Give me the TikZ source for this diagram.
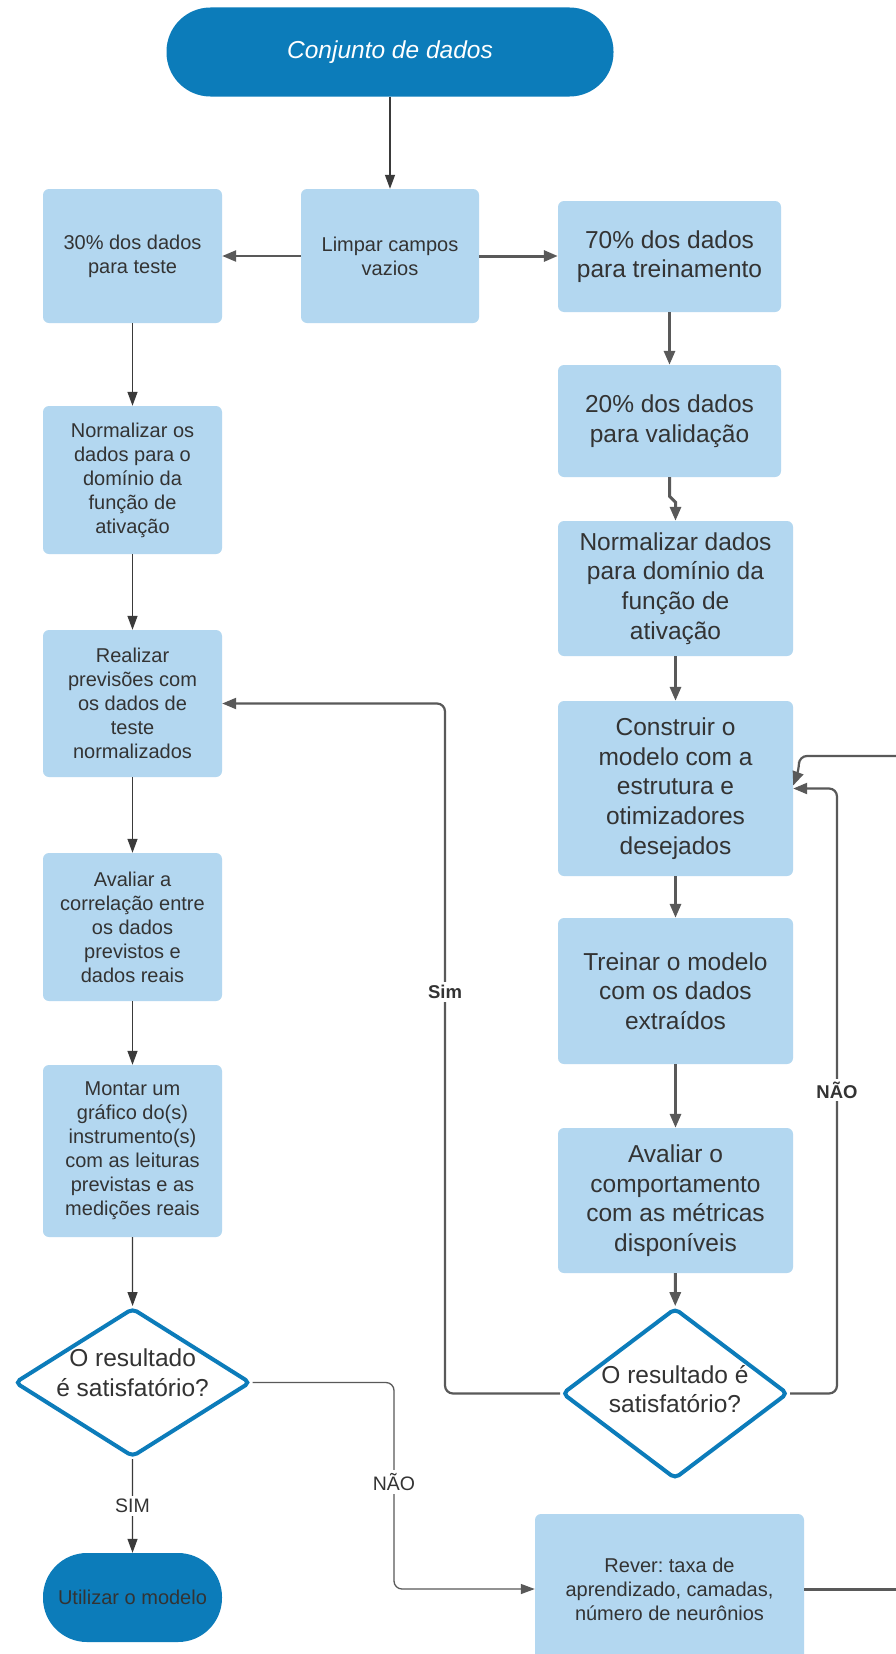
\documentclass[tikz,border=0pt]{standalone}
\usepackage{fontspec}
\setmainfont{Liberation Sans}
\usetikzlibrary{shapes.geometric,arrows.meta}
\definecolor{dblue}{HTML}{0C7CBA}
\definecolor{lblue}{HTML}{B3D7F0}
\definecolor{txt}{HTML}{333333}
\definecolor{arr}{HTML}{595959}
\definecolor{thinc}{HTML}{3A3A3A}
\frenchspacing
\begin{document}
\begin{tikzpicture}[x=1pt,y=-1pt,
  box/.style={fill=lblue, rounded corners=6pt, align=center, text=txt, inner sep=2pt},
  sm/.style={font=\fontsize{20}{24}\selectfont},
  bg/.style={font=\fontsize{24.5}{29.6}\selectfont},
  term/.style={fill=dblue, rounded corners=44pt, align=center},
  dec/.style={diamond, draw=dblue, line width=4pt, fill=white, rounded corners=5pt, inner sep=0pt},
  thinarrow/.style={draw=thinc, line width=1.3pt, -{Triangle[length=14pt,width=10pt]}},
  thickarrow/.style={draw=arr, line width=3pt, -{Triangle[length=14pt,width=11pt]}},
  midarrow/.style={draw=arr, line width=2.2pt, rounded corners=8pt, -{Triangle[length=14pt,width=11pt]}},
  lab/.style={fill=white, text=txt, inner sep=3pt, font=\fontsize{19.5}{23}\selectfont},
  boldlab/.style={fill=white, text=txt, inner sep=3pt, font=\fontsize{18.5}{22}\selectfont\bfseries}
]
\clip (0,0) rectangle (896,1654);
\fill[white] (0,0) rectangle (896,1654);

% nodes
\node[term, minimum width=447pt, minimum height=89pt, text=white, font=\fontsize{24.5}{30}\selectfont\itshape] (top) at (390,52) {Conjunto de dados};
\node[box, sm, minimum width=178pt, minimum height=134pt] (limpar) at (390,256) {Limpar campos\\vazios};
\node[box, sm, minimum width=179pt, minimum height=134pt] (p30) at (132.5,256) {30\% dos dados\\para teste};
\node[box, bg, minimum width=223pt, minimum height=111pt] (p70) at (669.5,256.5) {70\% dos dados\\para treinamento};
\node[box, bg, minimum width=223pt, minimum height=112pt] (p20) at (669.5,421) {20\% dos dados\\para validação};
\node[box, sm, minimum width=179pt, minimum height=148pt] (normL) at (132.5,480) {Normalizar os\\dados para o\\domínio da\\função de\\ativação};
\node[box, bg, minimum width=235pt, minimum height=135pt] (normR) at (675.5,588.5) {Normalizar dados\\para domínio da\\função de\\ativação};
\node[box, sm, minimum width=179pt, minimum height=147pt] (real) at (132.5,703.5) {Realizar\\previsões com\\os dados de\\teste\\normalizados};
\node[box, bg, minimum width=235pt, minimum height=175pt] (constr) at (675.5,788.5) {Construir o\\modelo com a\\estrutura e\\otimizadores\\desejados};
\node[box, sm, minimum width=179pt, minimum height=148pt] (aval) at (132.5,927) {Avaliar a\\correlação entre\\os dados\\previstos e\\dados reais};
\node[box, bg, minimum width=235pt, minimum height=146pt] (trein) at (675.5,991) {Treinar o modelo\\com os dados\\extraídos};
\node[box, sm, minimum width=179pt, minimum height=172pt] (montar) at (132.5,1151) {Montar um\\gráfico do(s)\\instrumento(s)\\com as leituras\\previstas e as\\medições reais};
\node[box, bg, minimum width=235pt, minimum height=145pt] (avalo) at (675.5,1200.5) {Avaliar o\\comportamento\\com as métricas\\disponíveis};
\node[dec, minimum width=236pt, minimum height=149pt,
  label={[bg, text=txt, align=center, yshift=9.5pt]center:O resultado\\é satisfatório?}] (d1) at (132.6,1382.5) {};
\node[dec, minimum width=226pt, minimum height=171pt,
  label={[bg, text=txt, align=center, yshift=4.5pt]center:O resultado é\\satisfatório?}] (d2) at (675,1393.5) {};
\node[term, sm, text=txt, minimum width=179pt, minimum height=89pt] (util) at (132.5,1597.5) {Utilizar o modelo};
\node[box, sm, minimum width=269pt, minimum height=150pt] (rever) at (669.5,1589) {Rever: taxa de\\aprendizado, camadas,\\número de neurônios};

% helper coordinates
\coordinate (j1) at (394,1480);
\coordinate (sim1) at (445,992);
\coordinate (nao2) at (837,1090);
\coordinate (out1) at (920,1589);
\coordinate (out2) at (920,756);
\coordinate (c3) at (799,770);

% connectors
\draw[thinarrow] (top) -- (limpar);
\draw[thickarrow, line width=2.4pt] (limpar) -- (p30);
\draw[thickarrow] (limpar.east) -- (limpar.east -| p70.west);
\draw[thinarrow] (p30) -- (normL);
\draw[thinarrow] (normL) -- (real);
\draw[thinarrow] (real) -- (aval);
\draw[thinarrow] (aval) -- (montar);
\draw[thinarrow] (montar) -- (d1);
\draw[thinarrow] (d1) -- node[lab]{SIM} (util);
\draw[thinarrow, draw=arr, rounded corners=8pt] (d1.east) -| (j1) |- (rever.west);
\node[lab] at (394,1482) {NÃO};

\draw[thickarrow] (p70) -- (p20);
\draw[thickarrow] (p20.south) -- ++(0,19) -- ++(6,6) -- (normR.north);
\draw[thickarrow] (normR) -- (constr);
\draw[thickarrow] (constr) -- (trein);
\draw[thickarrow] (trein) -- (avalo);
\draw[thickarrow] (avalo) -- (d2);

\draw[midarrow] (d2.west) -| (sim1) |- (real.east);
\node[boldlab] at (sim1) {Sim};
\draw[midarrow] (d2.east) -| (nao2) |- (constr.east);
\node[boldlab] at (nao2) {NÃO};

\draw[draw=arr, line width=3pt] (rever.east) -- (out1);
\draw[midarrow] (out2) -| (c3) -- ([yshift=3pt]constr.east);
\end{tikzpicture}
\end{document}
